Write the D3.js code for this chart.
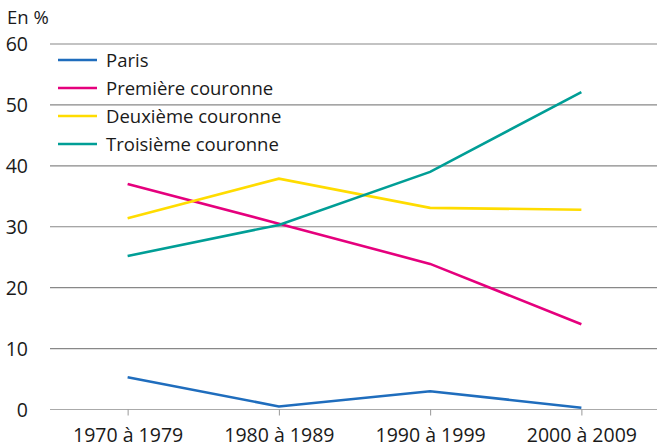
<!DOCTYPE html>
<html><head><meta charset="utf-8">
<script src="https://cdn.jsdelivr.net/npm/d3@7"></script>
<style>body{margin:0;background:#fff}text{font-family:"Open Sans",sans-serif;fill:#1a1a1a}</style>
</head><body><svg id="c" width="657" height="446"></svg>
<script>
const categories = ["1970 à 1979","1980 à 1989","1990 à 1999","2000 à 2009"];
const seriesNames = ["Paris","Première couronne","Deuxième couronne","Troisième couronne"];
const paris = [5.3, 0.5, 3.0, 0.3];
const premiere = [37.0, 30.5, 23.9, 14.0];
const deuxieme = [31.4, 37.9, 33.1, 32.8];
const troisieme = [25.2, 30.3, 39.0, 52.1];
const yTicks = [0,10,20,30,40,50,60];
const colors = ["#1f6dbd","#e5007d","#ffdc00","#009e96"];
const series = [paris, premiere, deuxieme, troisieme];

const svg = d3.select("#c");
const x = d3.scalePoint().domain(categories).range([52,657]).padding(0.5);
const y = d3.scaleLinear().domain([0,60]).range([409.5,44]);

// grid
svg.append("g").selectAll("line").data(yTicks).join("line")
  .attr("x1",50).attr("x2",657)
  .attr("y1",d=>y(d)).attr("y2",d=>y(d))
  .attr("stroke",d=>d===0?"#aaa":"#888").attr("stroke-width",1.2);

// y labels
svg.append("g").selectAll("text").data(yTicks).join("text")
  .attr("x",28).attr("y",d=>y(d)+7).attr("text-anchor","end")
  .attr("font-size",19.5).text(d=>d);

// x axis
const xa = svg.append("g").attr("transform","translate(0,409.5)")
  .call(d3.axisBottom(x).tickSize(6).tickSizeOuter(0));
xa.select(".domain").remove();
xa.selectAll(".tick line").attr("stroke","#999");
xa.selectAll(".tick text").attr("font-size",19.5).attr("dy",0).attr("y",32)
  .style("font-family","'Open Sans',sans-serif").attr("fill","#1a1a1a");

svg.append("text").attr("x",7).attr("y",24).attr("font-size",18.5).text("En %");

const line = d3.line().x((d,i)=>x(categories[i])).y(d=>y(d));
svg.append("g").selectAll("path").data(series).join("path")
  .attr("d",d=>line(d)).attr("fill","none")
  .attr("stroke",(d,i)=>colors[i]).attr("stroke-width",2.6);

// legend
const lg = svg.append("g").selectAll("g").data(seriesNames).join("g")
  .attr("transform",(d,i)=>`translate(58,${60+i*28})`);
lg.append("line").attr("x1",0).attr("x2",39).attr("y1",0).attr("y2",0)
  .attr("stroke",(d,i)=>colors[i]).attr("stroke-width",2.6);
lg.append("text").attr("x",48).attr("y",7).attr("font-size",18.5).text(d=>d);
</script></body></html>
